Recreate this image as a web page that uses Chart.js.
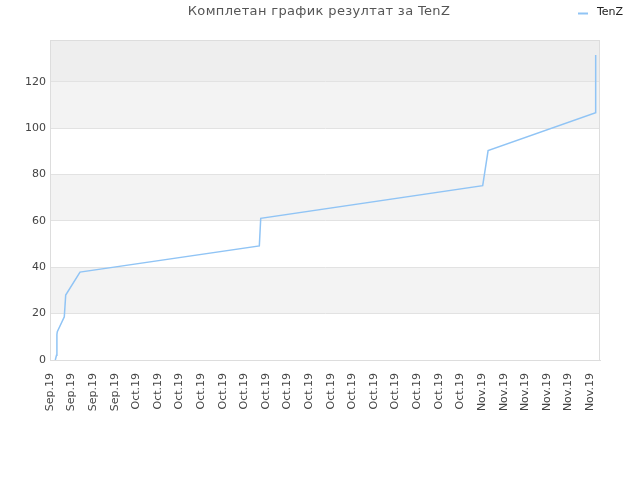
<!DOCTYPE html>
<html>
<head>
<meta charset="utf-8">
<script src="https://cdn.jsdelivr.net/npm/chart.js@4"></script>
<style>
    html, body { margin: 0; padding: 0; background: #fff; }
    #wrap { width: 640px; height: 480px; }
</style>
</head>
<body>
<div id="wrap"><canvas id="score-chart" width="640" height="480"></canvas></div>
<script>
// Tick labels on the x axis (one per slot)
const xLabels = [
    'Sep.19', 'Sep.19', 'Sep.19', 'Sep.19',
    'Oct.19', 'Oct.19', 'Oct.19', 'Oct.19', 'Oct.19', 'Oct.19', 'Oct.19', 'Oct.19',
    'Oct.19', 'Oct.19', 'Oct.19', 'Oct.19', 'Oct.19', 'Oct.19', 'Oct.19', 'Oct.19',
    'Nov.19', 'Nov.19', 'Nov.19', 'Nov.19', 'Nov.19', 'Nov.19'
];

// Series: position along the x axis (in label slots) and cumulative score
const xPos = [0.245, 0.30, 0.32, 0.338, 0.662, 0.727, 1.389, 9.69, 9.755, 20.03, 20.28, 25.26, 25.26];
const scores = [0, 2, 11, 12.2, 18.6, 28, 37.9, 49.2, 61.1, 75.2, 90.3, 106.6, 131.5];

const yTicks = [0, 20, 40, 60, 80, 100, 120];

const chartTitle = 'Комплетан график резултат за TenZ';
const seriesName = 'TenZ';
const lineColor = '#90c4f5';

const FONT = "'DejaVu Sans', sans-serif";

// Alternating bands behind the plot, plus frame
const bandsPlugin = {
    id: 'bands',
    beforeDraw(chart) {
        const { ctx, chartArea: a, scales: { y } } = chart;
        ctx.save();
        ctx.fillStyle = '#eeeeee';
        const topTick = y.getPixelForValue(yTicks[yTicks.length - 1]);
        ctx.fillRect(a.left, a.top, a.right - a.left, topTick - a.top);
        for (let i = 0; i < yTicks.length - 1; i++) {
            if (i % 2 === 1) {
                const y0 = y.getPixelForValue(yTicks[i]);
                const y1 = y.getPixelForValue(yTicks[i + 1]);
                ctx.fillStyle = '#f3f3f3';
                ctx.fillRect(a.left, y1, a.right - a.left, y0 - y1);
            }
        }
        ctx.restore();
    },
    afterDraw(chart) {
        const { ctx, chartArea: a } = chart;
        ctx.save();
        ctx.strokeStyle = '#dddddd';
        ctx.lineWidth = 1;
        ctx.strokeRect(a.left + 0.5, a.top + 0.5, a.right - a.left - 1, a.bottom - a.top);
        ctx.restore();
    }
};

// Title centred and legend on the same row at top right
const headerPlugin = {
    id: 'header',
    afterDraw(chart) {
        const ctx = chart.ctx;
        ctx.save();
        ctx.font = '13px ' + FONT;
        ctx.fillStyle = '#555555';
        ctx.textAlign = 'center';
        ctx.textBaseline = 'middle';
        ctx.letterSpacing = '0.35px';
        ctx.fillText(chartTitle, 319, 12);
        ctx.letterSpacing = '0px';

        ctx.strokeStyle = lineColor;
        ctx.lineWidth = 2;
        ctx.beginPath();
        ctx.moveTo(578, 13.5);
        ctx.lineTo(588, 13.5);
        ctx.stroke();

        ctx.font = '11px ' + FONT;
        ctx.fillStyle = '#222222';
        ctx.textAlign = 'left';
        ctx.fillText(chart.data.datasets[0].label, 597, 12.5);
        ctx.restore();
    }
};

new Chart(document.getElementById('score-chart'), {
    type: 'line',
    data: {
        datasets: [{
            label: seriesName,
            data: xPos.map((x, i) => ({ x: x, y: scores[i] })),
            borderColor: lineColor,
            borderWidth: 1.5,
            pointRadius: 0,
            tension: 0,
            fill: false
        }]
    },
    options: {
        responsive: false,
        animation: false,
        devicePixelRatio: 1,
        layout: { padding: { top: 40, right: 40, left: 0, bottom: 0 } },
        plugins: {
            legend: { display: false },
            title: { display: false },
            tooltip: { enabled: false }
        },
        scales: {
            x: {
                type: 'linear',
                min: 0,
                max: 25.46,
                afterFit: function(scale) { scale.height = 120; },
                afterBuildTicks: function(scale) {
                    scale.ticks = xLabels.map((_, i) => ({ value: i }));
                },
                ticks: {
                    autoSkip: false,
                    minRotation: 90,
                    maxRotation: 90,
                    padding: 5,
                    font: { family: FONT, size: 11 },
                    color: '#444444',
                    callback: function(value) { return xLabels[value]; }
                },
                grid: { display: false, drawTicks: true },
                border: { color: '#dddddd' }
            },
            y: {
                min: 0,
                max: 138,
                afterFit: function(scale) { scale.width = 50; },
                afterBuildTicks: function(scale) {
                    scale.ticks = yTicks.map(v => ({ value: v }));
                },
                ticks: {
                    padding: 4,
                    font: { family: FONT, size: 11 },
                    color: '#444444'
                },
                grid: { color: '#e2e2e2', drawTicks: false },
                border: { color: '#dddddd' }
            }
        }
    },
    plugins: [bandsPlugin, headerPlugin]
});
</script>
</body>
</html>
